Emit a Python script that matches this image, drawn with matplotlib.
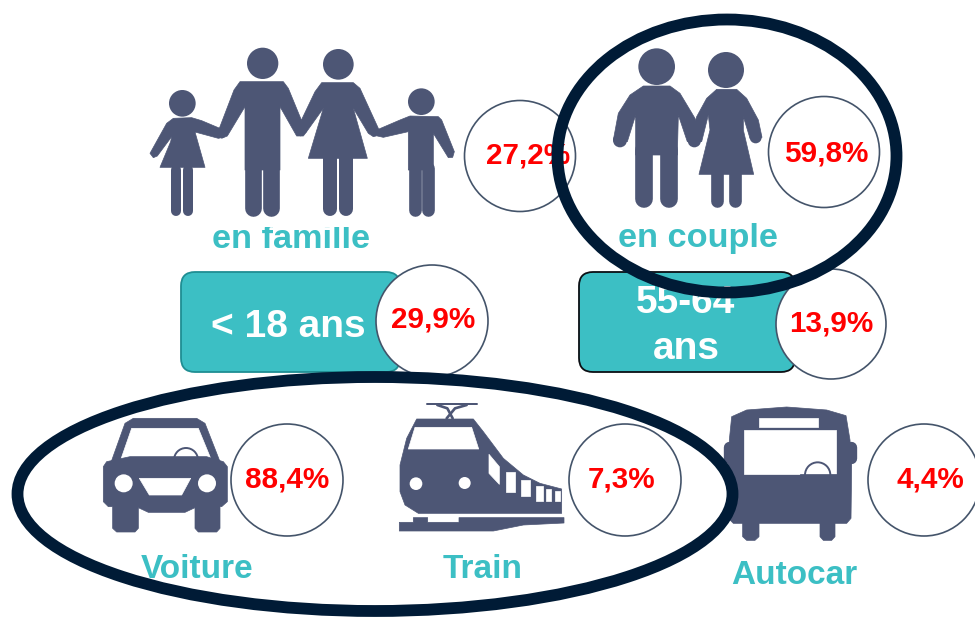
import matplotlib
matplotlib.use("Agg")
import matplotlib.pyplot as plt
from matplotlib.patches import Polygon, Circle, Ellipse, FancyBboxPatch, Rectangle

plt.rcParams['font.family'] = ['Liberation Sans', 'DejaVu Sans']

# ---- data ----
percent_values = [27.2, 59.8, 29.9, 13.9, 88.4, 7.3, 4.4]
group_labels = ["en famille", "en couple"]
age_labels = ["< 18 ans", "55-64\nans"]
transport_labels = ["Voiture", "Train", "Autocar"]

# ---- layout ----
CIRCLES = [(520, 156, 55.5), (824, 152, 55.5), (432, 321, 56), (831, 324, 55),
           (287, 480, 56), (625, 480, 56), (924, 480, 56)]
PCT_POS = [(528, 155), (826, 153), (433, 320), (831, 324), (287, 479), (622, 479), (930, 480)]
SLATE = "#4D5675"
TEAL = "#3CBFC4"
NAVY = "#001B36"
EDGE = "#44546A"

fig = plt.figure(figsize=(9.75, 6.19), dpi=100)
ax = fig.add_axes([0, 0, 1, 1])
ax.set_xlim(0, 975)
ax.set_ylim(619, 0)
ax.axis("off")


class Z:
    """Draw icon shapes given in a 3x-zoomed frame with origin (ox, oy)."""
    def __init__(self, ox, oy):
        self.ox, self.oy = ox, oy

    def p(self, pts):
        return [(self.ox + x / 3, self.oy + y / 3) for x, y in pts]

    def poly(self, pts, c=SLATE, zo=3):
        ax.add_patch(Polygon(self.p(pts), closed=True, fc=c, ec=c, lw=0.5, zorder=zo, joinstyle="round"))

    def circ(self, x, y, r, c=SLATE, zo=3, ec=None, lw=0):
        q = self.p([(x, y)])[0]
        ax.add_patch(Circle(q, r / 3, fc=c, ec=ec if ec else c, lw=lw, zorder=zo))

    def line(self, pts, w, c=SLATE, zo=3):
        q = self.p(pts)
        ax.plot([a for a, _ in q], [b for _, b in q], color=c, lw=w / 3 * 0.72,
                solid_capstyle="round", solid_joinstyle="round", zorder=zo)

    def rect(self, x0, y0, x1, y1, c="white", zo=4):
        self.poly([(x0, y0), (x1, y0), (x1, y1), (x0, y1)], c=c, zo=zo)


# text lying partly beneath the family picture
ax.text(291, 239, group_labels[0], color=TEAL, fontsize=24.7, fontweight="bold", ha="center", va="center", zorder=1)
ax.add_patch(Rectangle((195, 205), 190, 21.5, fc="white", ec="none", zorder=2))

# family
f = Z(140, 30)
f.circ(127, 220, 40)
f.poly([(100, 265), (155, 263), (185, 272), (242, 296), (258, 310), (250, 322), (235, 325), (165, 306), (195, 412),
        (60, 412), (92, 335), (95, 320), (52, 378), (40, 383), (30, 370), (80, 280)])
f.line([(108, 420), (108, 543)], 30)
f.line([(145, 420), (145, 543)], 30)

f.circ(368, 100, 47)
f.poly([(300, 155), (430, 155), (445, 175), (482, 265), (500, 305), (490, 318), (470, 318), (420, 230), (420, 420),
        (315, 420), (315, 230), (262, 318), (245, 325), (238, 295), (282, 180)])
f.line([(339, 410), (339, 533)], 50)
f.line([(393, 410), (393, 533)], 50)

f.circ(595, 103, 46)
f.poly([(545, 158), (640, 158), (660, 175), (715, 295), (720, 315), (700, 320), (685, 310), (640, 235), (682, 385),
        (505, 385), (550, 235), (500, 305), (482, 318), (470, 300), (525, 185)])
f.line([(571, 385), (571, 537)], 42)
f.line([(617, 385), (617, 537)], 42)

f.circ(844, 215, 40)
f.poly([(810, 258), (895, 260), (905, 270), (943, 365), (938, 382), (925, 383), (880, 310), (880, 420), (805, 420),
        (805, 305), (730, 322), (712, 318), (710, 300), (780, 270)])
f.line([(824, 415), (824, 540)], 38)
f.line([(864, 415), (864, 540)], 38)

# couple
c = Z(600, 30)
c.circ(170, 110, 55)
c.poly([(130, 168), (210, 168), (240, 190), (285, 265), (303, 330), (262, 335), (235, 255), (232, 375), (107, 375),
        (107, 255), (82, 335), (40, 330), (55, 250), (90, 195)])
c.circ(60, 331, 21)
c.circ(283, 332, 20)
c.line([(133, 360), (133, 507)], 53)
c.line([(206, 360), (206, 507)], 53)
c.circ(378, 120, 54)
c.poly([(350, 178), (410, 178), (440, 205), (475, 270), (486, 322), (450, 325), (430, 260), (430, 300), (461, 433),
        (297, 433), (330, 300), (325, 255), (305, 335), (270, 330), (290, 260), (320, 205)])
c.circ(467, 322, 18)
c.line([(352, 430), (352, 512)], 38)
c.line([(404, 430), (404, 512)], 38)
ax.text(698, 238, group_labels[1], color=TEAL, fontsize=24.7, fontweight="bold", ha="center", va="center", zorder=2)

# age boxes
for (x0, x1), ec in zip([(181, 400), (579, 795)], ["#1F8E93", "#0B0F14"]):
    ax.add_patch(FancyBboxPatch((x0 + 14, 272 + 14), x1 - x0 - 28, 100 - 28,
                                boxstyle="round,pad=14,rounding_size=14",
                                fc=TEAL, ec=ec, lw=1.3, zorder=2))
ax.text(288, 327, age_labels[0], color="white", fontsize=28, fontweight="bold", ha="center", va="center", zorder=3)
ax.text(686, 326, age_labels[1], color="white", fontsize=28, fontweight="bold", ha="center", va="center",
        linespacing=1.33, zorder=3)

# car
v = Z(90, 395)
v.poly([(130, 70), (320, 70), (345, 85), (392, 205), (62, 205), (105, 85)])
v.poly([(125, 100), (325, 100), (362, 190), (92, 195)], c="white", zo=4)
v.circ(288, 195, 36, c="white", zo=4.5, ec=SLATE, lw=1.4)
v.poly([(120, 185), (350, 185), (400, 200), (412, 215), (412, 320), (395, 335), (390, 335), (390, 400), (380, 411),
        (325, 411), (315, 400), (315, 338), (300, 345), (285, 352), (175, 352), (160, 345), (145, 338), (145, 400),
        (135, 411), (80, 411), (68, 400), (68, 335), (55, 335), (40, 320), (40, 215), (50, 200)], zo=5)
v.circ(101, 265, 27, c="white", zo=6)
v.circ(351, 265, 27, c="white", zo=6)
v.poly([(148, 250), (302, 250), (275, 300), (178, 300)], c="white", zo=6)

# train
v.poly([(980, 72), (1150, 72), (1180, 110), (1240, 190), (1300, 240), (1350, 265), (1415, 282), (1415, 355),
        (985, 355), (945, 330), (930, 290), (930, 210), (950, 130)])
v.poly([(975, 97), (1145, 97), (1166, 162), (955, 162)], c="white", zo=4)
v.poly([(1197, 178), (1228, 215), (1228, 268), (1197, 235)], c="white", zo=4)
v.rect(1248, 232, 1275, 290)
v.rect(1293, 255, 1320, 303)
v.rect(1337, 272, 1358, 317)
v.rect(1368, 282, 1382, 317)
v.rect(1396, 288, 1410, 317)
v.circ(978, 266, 19, c="white", zo=4)
v.circ(1124, 264, 18, c="white", zo=4)
v.poly([(928, 382), (970, 382), (970, 368), (1013, 368), (1013, 382), (1107, 382), (1107, 368), (1422, 368),
        (1422, 384), (1300, 390), (1210, 408), (928, 408)])
v.line([(1010, 28), (1160, 28)], 6)
v.line([(1042, 30), (1072, 40), (1088, 70)], 8)
v.line([(1130, 30), (1095, 40), (1070, 70)], 8)

# bus
b = Z(710, 395)
b.poly([(65, 65), (110, 45), (230, 36), (350, 45), (408, 62), (420, 135), (425, 210),
        (423, 370), (410, 385), (375, 385), (375, 425), (365, 436), (340, 436), (330, 425), (330, 385), (147, 385),
        (147, 425), (135, 436), (110, 436), (98, 425), (98, 385), (70, 385), (55, 370), (55, 210), (58, 135)])
b.line([(58, 155), (58, 188)], 34)
b.line([(422, 155), (422, 188)], 34)
b.rect(147, 70, 323, 96)
b.rect(102, 104, 377, 237)
b.circ(323, 240, 38, c="white", zo=4.5, ec=SLATE, lw=1.4)
b.rect(270, 238, 380, 285, c=SLATE, zo=5)

for x, label, y in zip([197, 483, 794], transport_labels, [569, 569, 575]):
    ax.text(x, y, label, color=TEAL, fontsize=24, fontweight="bold", ha="center", va="center", zorder=6)

# percentage circles
for (x, y, r), (tx, ty), val in zip(CIRCLES, PCT_POS, percent_values):
    ax.add_patch(Circle((x, y), r, fc="white", ec=EDGE, lw=1.2, zorder=7))
    ax.text(tx, ty, f"{val:.1f}%".replace(".", ","), color="#FF0000", fontsize=21.3, fontweight="bold",
            ha="center", va="center", zorder=8)

# highlight ellipses
ax.add_patch(Ellipse((727, 156), 339, 273, fc="none", ec=NAVY, lw=8.5, zorder=9))
ax.add_patch(Ellipse((375, 494), 715, 234, fc="none", ec=NAVY, lw=8.5, zorder=9))

fig.savefig("out.png", dpi=100)
